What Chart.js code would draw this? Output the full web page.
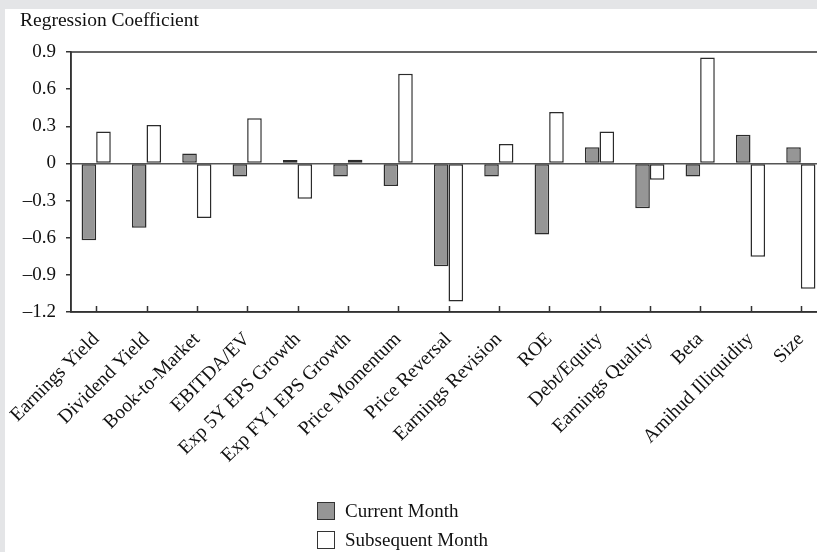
<!DOCTYPE html>
<html>
<head>
<meta charset="utf-8">
<script src="https://cdn.jsdelivr.net/npm/chart.js@4/dist/chart.umd.min.js"></script>
<style>
  html, body { margin: 0; padding: 0; width: 817px; height: 552px; overflow: hidden; background: #e4e5e7; }
  #sheet { position: absolute; left: 5px; top: 9px; width: 835px; height: 543px; background: #fff; }
  #wrap { position: absolute; left: 0; top: 0; width: 835px; height: 543px; }
  .title { position: absolute; left: 15px; top: 0px; font: 19.5px "Liberation Serif", serif; color: #111; }
  .legend { position: absolute; left: 312px; top: 487px; font: 19px "Liberation Serif", serif; color: #111; }
  .legend div { height: 29px; display: flex; align-items: center; }
  .legend span.box { width: 16px; height: 16px; border: 1.5px solid #333; margin-right: 10px; }
</style>
</head>
<body>
<div id="sheet">
  <div id="wrap"><canvas id="chart"></canvas></div>
  <div class="title">Regression Coefficient</div>
  <div class="legend">
    <div><span class="box" style="background:#969696"></span>Current Month</div>
    <div><span class="box" style="background:#fff"></span>Subsequent Month</div>
  </div>
</div>
<script>
// --- données ---
const categories = [
  "Earnings Yield", "Dividend Yield", "Book-to-Market", "EBITDA/EV", "Exp 5Y EPS Growth",
  "Exp FY1 EPS Growth", "Price Momentum", "Price Reversal", "Earnings Revision", "ROE",
  "Debt/Equity", "Earnings Quality", "Beta", "Amihud Illiquidity", "Size"
];
const currentMonth = [-0.62, -0.52, 0.08, -0.105, 0.027, -0.105, -0.183, -0.83, -0.105, -0.574, 0.13, -0.363, -0.105, 0.232, 0.13];
const subsequentMonth = [0.258, 0.31, -0.44, 0.364, -0.285, 0.03, 0.725, -1.115, 0.157, 0.415, 0.258, -0.132, 0.856, -0.754, -1.012];
const yTicks = [0.9, 0.6, 0.3, 0, -0.3, -0.6, -0.9, -1.2];
const yTickLabels = ["0.9", "0.6", "0.3", "0", "–0.3", "–0.6", "–0.9", "–1.2"];

const SERIF = '"Liberation Serif", "Times New Roman", serif';

// cadre + petites graduations vers l'intérieur sur l'axe x
const framePlugin = {
  id: 'frame',
  afterDraw(chart) {
    const { ctx, chartArea } = chart;
    const xs = chart.scales.x;
    ctx.save();
    ctx.strokeStyle = '#333';
    ctx.lineWidth = 1.5;
    ctx.strokeRect(chartArea.left, chartArea.top, chartArea.right - chartArea.left, chartArea.bottom - chartArea.top);
    ctx.beginPath();
    xs.ticks.forEach((t, i) => {
      const x = Math.round(xs.getPixelForTick(i)) + 0.5;
      ctx.moveTo(x, chartArea.bottom);
      ctx.lineTo(x, chartArea.bottom - 6);
    });
    ctx.stroke();
    ctx.restore();
  }
};

new Chart(document.getElementById('chart'), {
  type: 'bar',
  data: {
    labels: categories,
    datasets: [
      {
        label: 'Current Month',
        data: currentMonth,
        backgroundColor: '#969696',
        borderColor: '#2b2b2b',
        borderWidth: 1.5,
        borderSkipped: false,
      },
      {
        label: 'Subsequent Month',
        data: subsequentMonth,
        backgroundColor: '#ffffff',
        borderColor: '#2b2b2b',
        borderWidth: 1.5,
        borderSkipped: false,
      }
    ]
  },
  options: {
    responsive: true,
    maintainAspectRatio: false,
    animation: false,
    categoryPercentage: 0.58,
    barPercentage: 1,
    layout: { padding: { top: 43, right: 14, left: 0, bottom: 0 }, autoPadding: false },
    plugins: {
      legend: { display: false },
      tooltip: { enabled: false },
    },
    scales: {
      x: {
        grid: { display: false, drawTicks: false },
        border: { display: true, color: '#333', width: 1.5 },
        ticks: {
          autoSkip: false,
          minRotation: 45,
          maxRotation: 45,
          padding: 16,
          color: '#111',
          font: { family: SERIF, size: 19.5 },
        },
        afterFit(scale) {
          scale.height = 240;
          // les étiquettes débordent à gauche, on ne veut pas décaler la zone de tracé
          scale.paddingLeft = 0;
          scale.paddingRight = 0;
        }
      },
      y: {
        min: -1.2,
        max: 0.9,
        afterBuildTicks(scale) { scale.ticks = yTicks.map(v => ({ value: v })); },
        grid: {
          color: (c) => (c.tick && c.tick.value === 0 ? '#555' : 'rgba(0,0,0,0)'),
          lineWidth: 1.5,
          tickColor: '#333',
          tickLength: 5,
        },
        border: { display: true, color: '#333', width: 1.5 },
        ticks: {
          padding: 10,
          color: '#111',
          font: { family: SERIF, size: 19 },
          callback: (v) => yTickLabels[yTicks.indexOf(Math.round(v * 10) / 10)],
        },
        afterFit(scale) { scale.width = 66; }
      }
    }
  },
  plugins: [framePlugin]
});
</script>
</body>
</html>
